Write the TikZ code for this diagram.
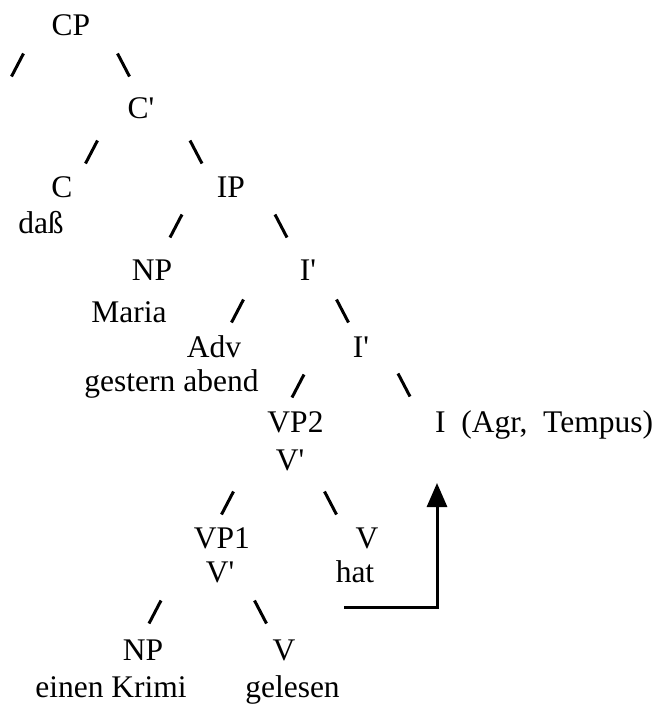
\documentclass[tikz,border=0pt]{standalone}
\usepackage{fontspec}
\setmainfont{Liberation Serif}[Ligatures=TeXOff]
\usetikzlibrary{arrows.meta}
\tikzset{
  lbl/.style={inner sep=0pt, anchor=base, font=\fontsize{31.5}{36}\selectfont},
  br/.style={line width=3pt, line cap=butt},
  mv/.style={line width=3pt, -{Triangle[length=24pt,width=20pt]}}
}
\newcommand{\fsl}[2]{\draw[br] (#1-6,#2+11.5) -- (#1+6,#2-11.5);}
\newcommand{\bsl}[2]{\draw[br] (#1-6,#2-11.5) -- (#1+6,#2+11.5);}
\begin{document}
\begin{tikzpicture}[x=1pt,y=-1pt]
\useasboundingbox (0,0) rectangle (665,705);
% nodes
\node[lbl] (cp) at (71,35) {CP};
\node[lbl] (cbar) at (141,118) {C'};
\node[lbl] (c) at (62,197) {C};
\node[lbl] (ip) at (231,197) {IP};
\node[lbl] (dass) at (41,233) {daß};
\node[lbl] (np1) at (152,280) {NP};
\node[lbl] (ibar1) at (308,280) {I'};
\node[lbl] (maria) at (129,322) {Maria};
\node[lbl] (adv) at (214,357) {Adv};
\node[lbl] (ibar2) at (361,357) {I'};
\node[lbl] (gestern) at (171.5,391) {gestern abend};
\node[lbl] (vp2) at (295.5,432) {VP2};
\node[lbl, anchor=base west] (infl) at (435,432) {I\ \ (Agr,\ \ Tempus)};
\node[lbl] (vbar1) at (290,470) {V'};
\node[lbl] (vp1) at (222,548) {VP1};
\node[lbl] (v1) at (367,548) {V};
\node[lbl] (vbar2) at (220,582) {V'};
\node[lbl] (hat) at (355,582) {hat};
\node[lbl] (np2) at (143,660) {NP};
\node[lbl] (v2) at (284,660) {V};
\node[lbl] (krimi) at (111,697) {einen Krimi};
\node[lbl] (gelesen) at (292.5,697) {gelesen};
% branches
\fsl{17.5}{65} \bsl{123.5}{65}
\fsl{91.5}{152} \bsl{196}{152}
\fsl{176}{226} \bsl{281}{226}
\fsl{237.5}{311} \bsl{342.5}{311}
\fsl{298}{386} \bsl{404}{385}
\fsl{227.5}{503} \bsl{330.5}{503}
\fsl{155}{612} \bsl{260.5}{612}
% movement arrow
\coordinate (mvstart) at (344,607);
\coordinate (mvend) at (437,483);
\draw[mv] (mvstart) -| (mvend);
\end{tikzpicture}
\end{document}
